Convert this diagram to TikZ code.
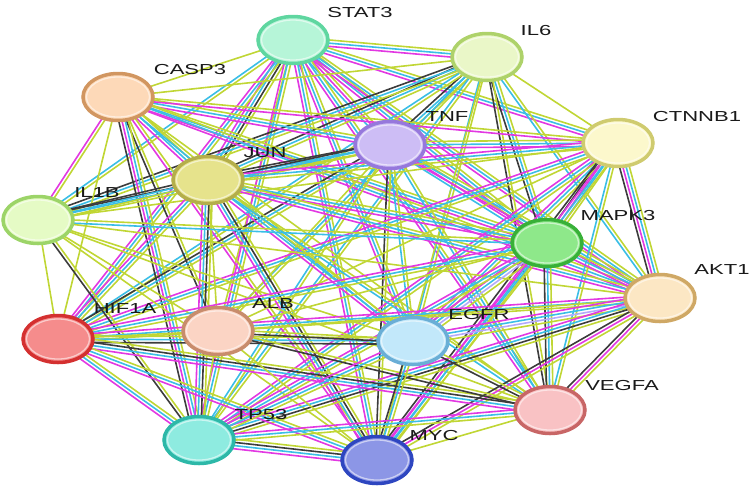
\documentclass[tikz,border=0pt]{standalone}
\usepackage{fontspec}
\setmainfont{Liberation Sans}
\usepackage{graphicx}
\usetikzlibrary{shapes.geometric,calc,backgrounds}
\definecolor{ctm}{RGB}{192,214,52}
\definecolor{cex}{RGB}{226,56,226}
\definecolor{cdb}{RGB}{58,190,230}
\definecolor{cco}{RGB}{60,60,60}
\definecolor{cho}{RGB}{180,170,250}
\tikzset{
  tm/.style={draw=ctm},
  ex/.style={draw=cex},
  db/.style={draw=cdb},
  co/.style={draw=cco},
  ho/.style={draw=cho},
  gene/.style={ellipse, minimum width=70pt, minimum height=47pt, line width=3.5pt, inner sep=0pt,
    path picture={\draw[white, opacity=0.55, line width=1.3pt] (path picture bounding box.center) ellipse (31.5pt and 20pt);}},
  lab/.style={font=\fontsize{14.5}{14.5}\selectfont, text=black!90, inner sep=0pt},
}
\newcommand\edg[3]{%
  \foreach \c [count=\i] in {#3}{\global\let\nn\i}%
  \foreach \c [count=\i] in {#3}{%
    \pgfmathsetmacro\off{(\i-(\nn+1)/2)*3.2}%
    \draw[\c, line width=1.6pt] ($(#1)!\off pt!90:(#2)$) -- ($(#2)!\off pt!-90:(#1)$);
  }%
}
\newcommand\glab[3]{\node[lab] (l#1) at (#2,#3) {\scalebox{1.52}[1]{#1}};}
\begin{document}
\begin{tikzpicture}[x=1pt,y=-1pt]
\useasboundingbox (0,0) rectangle (754,491);
% nodes
\node[gene, draw={rgb,255:red,95;green,214;blue,160}, fill={rgb,255:red,182;green,245;blue,216}] (STAT3) at (293,40) {};
\node[gene, draw={rgb,255:red,174;green,210;blue,106}, fill={rgb,255:red,234;green,247;blue,200}] (IL6) at (487,57) {};
\node[gene, draw={rgb,255:red,209;green,150;blue,96}, fill={rgb,255:red,253;green,217;blue,184}] (CASP3) at (118,97) {};
\node[gene, draw={rgb,255:red,150;green,120;blue,220}, fill={rgb,255:red,205;green,189;blue,245}] (TNF) at (390,145) {};
\node[gene, draw={rgb,255:red,207;green,203;blue,111}, fill={rgb,255:red,252;green,248;blue,204}] (CTNNB1) at (618,143) {};
\node[gene, draw={rgb,255:red,180;green,174;blue,74}, fill={rgb,255:red,230;green,227;blue,140}] (JUN) at (208,180) {};
\node[gene, draw={rgb,255:red,156;green,212;blue,104}, fill={rgb,255:red,229;green,251;blue,197}] (IL1B) at (38,220) {};
\node[gene, draw={rgb,255:red,56;green,176;blue,56}, fill={rgb,255:red,142;green,232;blue,138}] (MAPK3) at (547,243) {};
\node[gene, draw={rgb,255:red,207;green,168;blue,101}, fill={rgb,255:red,252;green,231;blue,196}] (AKT1) at (660,298) {};
\node[gene, draw={rgb,255:red,212;green,48;blue,48}, fill={rgb,255:red,245;green,140;blue,140}] (HIF1A) at (58,339) {};
\node[gene, draw={rgb,255:red,200;green,140;blue,108}, fill={rgb,255:red,251;green,212;blue,196}] (ALB) at (218,331) {};
\node[gene, draw={rgb,255:red,106;green,174;blue,214}, fill={rgb,255:red,194;green,232;blue,250}] (EGFR) at (413,341) {};
\node[gene, draw={rgb,255:red,200;green,102;blue,102}, fill={rgb,255:red,249;green,194;blue,196}] (VEGFA) at (550,410) {};
\node[gene, draw={rgb,255:red,45;green,184;blue,168}, fill={rgb,255:red,142;green,235;blue,224}] (TP53) at (199,440) {};
\node[gene, draw={rgb,255:red,46;green,70;blue,192}, fill={rgb,255:red,140;green,150;blue,230}] (MYC) at (377,460) {};
% labels
\glab{STAT3}{360}{13}
\glab{IL6}{536}{31}
\glab{CASP3}{190}{70}
\glab{TNF}{447}{117}
\glab{CTNNB1}{697}{117}
\glab{JUN}{265}{153}
\glab{IL1B}{97}{193}
\glab{MAPK3}{618}{216}
\glab{AKT1}{722}{270}
\glab{HIF1A}{125}{309}
\glab{ALB}{273}{304}
\glab{EGFR}{479}{314}
\glab{VEGFA}{622}{385}
\glab{TP53}{261}{414}
\glab{MYC}{434}{435}
% edges
\begin{pgfonlayer}{background}
\edg{STAT3}{IL6}{ex,db,tm}
\edg{STAT3}{CASP3}{tm}
\edg{STAT3}{TNF}{db,ex,tm}
\edg{STAT3}{CTNNB1}{ex,db,tm}
\edg{STAT3}{JUN}{ex,db,co,tm}
\edg{STAT3}{IL1B}{db,tm}
\edg{STAT3}{MAPK3}{ex,db,tm}
\edg{STAT3}{AKT1}{ex,db,tm}
\edg{STAT3}{HIF1A}{ex,db,tm}
\edg{STAT3}{ALB}{tm}
\edg{STAT3}{EGFR}{ex,db,tm}
\edg{STAT3}{VEGFA}{ex,db,tm}
\edg{STAT3}{TP53}{ex,db,tm}
\edg{STAT3}{MYC}{ex,db,tm}
\edg{IL6}{CASP3}{tm}
\edg{IL6}{TNF}{co,db,tm}
\edg{IL6}{CTNNB1}{tm}
\edg{IL6}{JUN}{co,db,tm}
\edg{IL6}{IL1B}{co,db,tm}
\edg{IL6}{MAPK3}{co,db,tm}
\edg{IL6}{AKT1}{db,tm}
\edg{IL6}{HIF1A}{db,tm}
\edg{IL6}{ALB}{db,tm}
\edg{IL6}{EGFR}{db,tm}
\edg{IL6}{VEGFA}{co,tm}
\edg{IL6}{TP53}{db,tm}
\edg{IL6}{MYC}{tm}
\edg{CASP3}{TNF}{ex,db,tm}
\edg{CASP3}{CTNNB1}{ex,tm}
\edg{CASP3}{JUN}{ex,db,tm}
\edg{CASP3}{IL1B}{ex,tm}
\edg{CASP3}{MAPK3}{ex,db,tm}
\edg{CASP3}{AKT1}{ex,db,tm}
\edg{CASP3}{HIF1A}{tm}
\edg{CASP3}{ALB}{co,tm}
\edg{CASP3}{EGFR}{db,tm}
\edg{CASP3}{VEGFA}{tm}
\edg{CASP3}{TP53}{co,ex,db,tm}
\edg{CASP3}{MYC}{ex,tm}
\edg{TNF}{CTNNB1}{ex,db,tm}
\edg{TNF}{JUN}{co,db,tm}
\edg{TNF}{IL1B}{co,db,tm}
\edg{TNF}{MAPK3}{db,ex,tm}
\edg{TNF}{AKT1}{ex,db,tm}
\edg{TNF}{HIF1A}{co,db,tm}
\edg{TNF}{ALB}{tm}
\edg{TNF}{EGFR}{db,tm}
\edg{TNF}{VEGFA}{db,tm}
\edg{TNF}{TP53}{db,tm}
\edg{TNF}{MYC}{co,tm}
\edg{CTNNB1}{JUN}{ex,db,tm}
\edg{CTNNB1}{IL1B}{tm}
\edg{CTNNB1}{MAPK3}{co,ex,db,tm}
\edg{CTNNB1}{AKT1}{co,ex,db,tm}
\edg{CTNNB1}{HIF1A}{ex,db,tm}
\edg{CTNNB1}{ALB}{tm}
\edg{CTNNB1}{EGFR}{ex,db,tm}
\edg{CTNNB1}{VEGFA}{db,tm}
\edg{CTNNB1}{TP53}{ex,db,tm}
\edg{CTNNB1}{MYC}{co,ex,db,tm}
\edg{JUN}{IL1B}{co,db,tm}
\edg{JUN}{MAPK3}{ex,db,tm}
\edg{JUN}{AKT1}{ex,db,tm}
\edg{JUN}{HIF1A}{ex,db,tm}
\edg{JUN}{ALB}{tm}
\edg{JUN}{EGFR}{ex,db,tm}
\edg{JUN}{VEGFA}{db,tm}
\edg{JUN}{TP53}{ex,db,co,tm}
\edg{JUN}{MYC}{ex,db,co,tm}
\edg{IL1B}{MAPK3}{db,tm}
\edg{IL1B}{AKT1}{tm}
\edg{IL1B}{HIF1A}{tm}
\edg{IL1B}{ALB}{tm}
\edg{IL1B}{EGFR}{tm}
\edg{IL1B}{VEGFA}{tm}
\edg{IL1B}{TP53}{co,tm}
\edg{IL1B}{MYC}{tm}
\edg{MAPK3}{AKT1}{ex,db,tm}
\edg{MAPK3}{HIF1A}{ex,db,tm}
\edg{MAPK3}{ALB}{tm}
\edg{MAPK3}{EGFR}{ex,db,ho,tm}
\edg{MAPK3}{VEGFA}{co,db,tm}
\edg{MAPK3}{TP53}{ex,db,tm}
\edg{MAPK3}{MYC}{ex,db,tm}
\edg{AKT1}{HIF1A}{ex,db,tm}
\edg{AKT1}{ALB}{tm}
\edg{AKT1}{EGFR}{ex,db,ho,tm}
\edg{AKT1}{VEGFA}{co,ex,tm}
\edg{AKT1}{TP53}{ex,db,co,tm}
\edg{AKT1}{MYC}{co,ex,tm}
\edg{HIF1A}{ALB}{tm}
\edg{HIF1A}{EGFR}{co,db,tm}
\edg{HIF1A}{VEGFA}{ex,db,co,tm}
\edg{HIF1A}{TP53}{ex,db,tm}
\edg{HIF1A}{MYC}{ex,db,tm}
\edg{ALB}{EGFR}{co,tm}
\edg{ALB}{VEGFA}{co,tm}
\edg{ALB}{TP53}{tm}
\edg{ALB}{MYC}{tm}
\edg{EGFR}{VEGFA}{co,tm}
\edg{EGFR}{TP53}{ex,db,tm}
\edg{EGFR}{MYC}{co,db,tm}
\edg{VEGFA}{TP53}{ex,db,tm}
\edg{VEGFA}{MYC}{tm}
\edg{TP53}{MYC}{ex,db,co,tm}
\end{pgfonlayer}
\end{tikzpicture}
\end{document}
